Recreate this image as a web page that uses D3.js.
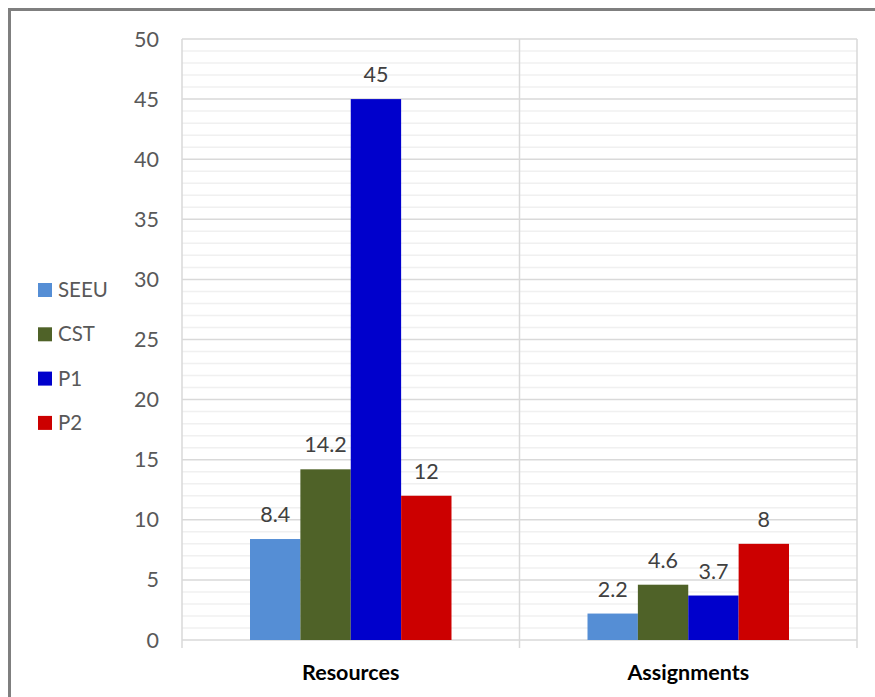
<!DOCTYPE html>
<html>
<head>
<meta charset="utf-8">
<script src="https://cdn.jsdelivr.net/npm/d3@7"></script>
<style>
  body { margin: 0; background: #fff; }
  svg { display: block; font-family: Lato, "Open Sans", sans-serif; }
</style>
</head>
<body>
<div id="grafik"></div>
<script>
const categories = ["Resources", "Assignments"];
const series = ["SEEU", "CST", "P1", "P2"];
const values = {
  SEEU: [8.4, 2.2],
  CST: [14.2, 4.6],
  P1: [45, 3.7],
  P2: [12, 8]
};
const colors = ["#558ED5", "#4F6228", "#0000CC", "#CC0000"];
const yTicks = [0, 5, 10, 15, 20, 25, 30, 35, 40, 45, 50];

const W = 875, H = 697;
const margin = {top: 39, right: 18, bottom: 57, left: 182};
const w = W - margin.left - margin.right;
const h = H - margin.top - margin.bottom;

const svg = d3.select("#grafik").append("svg")
  .attr("width", W).attr("height", H);

// outer frame
svg.append("rect")
  .attr("x", 9.5).attr("y", 9.5)
  .attr("width", 900).attr("height", 720)
  .attr("fill", "none")
  .attr("stroke", "#7f7f7f")
  .attr("stroke-width", 3);

const g = svg.append("g").attr("transform", `translate(${margin.left},${margin.top})`);

const y = d3.scaleLinear().domain([0, 50]).range([h, 0]);
const x0 = d3.scaleBand().domain(categories).range([0, w]).padding(0);
const x1 = d3.scaleBand().domain(series).range([0, x0.bandwidth()])
  .paddingInner(0).paddingOuter(1.35);
const color = d3.scaleOrdinal().domain(series).range(colors);

// minor gridlines
g.append("g").selectAll("line")
  .data(d3.range(0, 51, 1).filter(v => v % 5 !== 0))
  .join("line")
  .attr("x1", 0).attr("x2", w)
  .attr("y1", d => y(d)).attr("y2", d => y(d))
  .attr("stroke", "#f0f0f0").attr("stroke-width", 1.5);

// major gridlines
g.append("g").selectAll("line")
  .data(yTicks)
  .join("line")
  .attr("x1", 0).attr("x2", w)
  .attr("y1", d => y(d)).attr("y2", d => y(d))
  .attr("stroke", "#d9d9d9").attr("stroke-width", 1.5);

// vertical category dividers
g.append("g").selectAll("line")
  .data([0, ...categories.map(c => x0(c) + x0.bandwidth())])
  .join("line")
  .attr("x1", d => d).attr("x2", d => d)
  .attr("y1", 0).attr("y2", h + 8)
  .attr("stroke", "#d9d9d9").attr("stroke-width", 1.5);

// y tick labels
g.append("g").selectAll("text")
  .data(yTicks)
  .join("text")
  .attr("x", -23)
  .attr("y", d => y(d))
  .attr("dy", "0.35em")
  .attr("text-anchor", "end")
  .attr("fill", "#595959")
  .style("font-size", "21.5px")
  .text(d => d);

// bars
const groups = g.append("g").selectAll("g")
  .data(categories)
  .join("g")
  .attr("transform", d => `translate(${x0(d)},0)`);

groups.selectAll("rect")
  .data((c, i) => series.map(s => ({s, v: values[s][i]})))
  .join("rect")
  .attr("x", d => x1(d.s))
  .attr("width", x1.bandwidth())
  .attr("y", d => y(d.v))
  .attr("height", d => y(0) - y(d.v))
  .attr("fill", d => color(d.s));

groups.selectAll("text")
  .data((c, i) => series.map(s => ({s, v: values[s][i]})))
  .join("text")
  .attr("x", d => x1(d.s) + x1.bandwidth() / 2)
  .attr("y", d => y(d.v) - 17)
  .attr("text-anchor", "middle")
  .attr("fill", "#404040")
  .style("font-size", "21.5px")
  .text(d => d.v);

// category labels
g.append("g").selectAll("text")
  .data(categories)
  .join("text")
  .attr("x", d => x0(d) + x0.bandwidth() / 2)
  .attr("y", h + 40)
  .attr("text-anchor", "middle")
  .attr("fill", "#000")
  .style("font-size", "21.5px")
  .style("font-weight", "bold")
  .text(d => d);

// legend
const legend = svg.append("g").selectAll("g")
  .data(series)
  .join("g")
  .attr("transform", (d, i) => `translate(38,${290 + i * 44.3})`);

legend.append("rect")
  .attr("x", 0).attr("y", -7)
  .attr("width", 14).attr("height", 14)
  .attr("fill", d => color(d));

legend.append("text")
  .attr("x", 20)
  .attr("dy", "0.35em")
  .attr("fill", "#595959")
  .style("font-size", "20.5px")
  .text(d => d);
</script>
</body>
</html>
